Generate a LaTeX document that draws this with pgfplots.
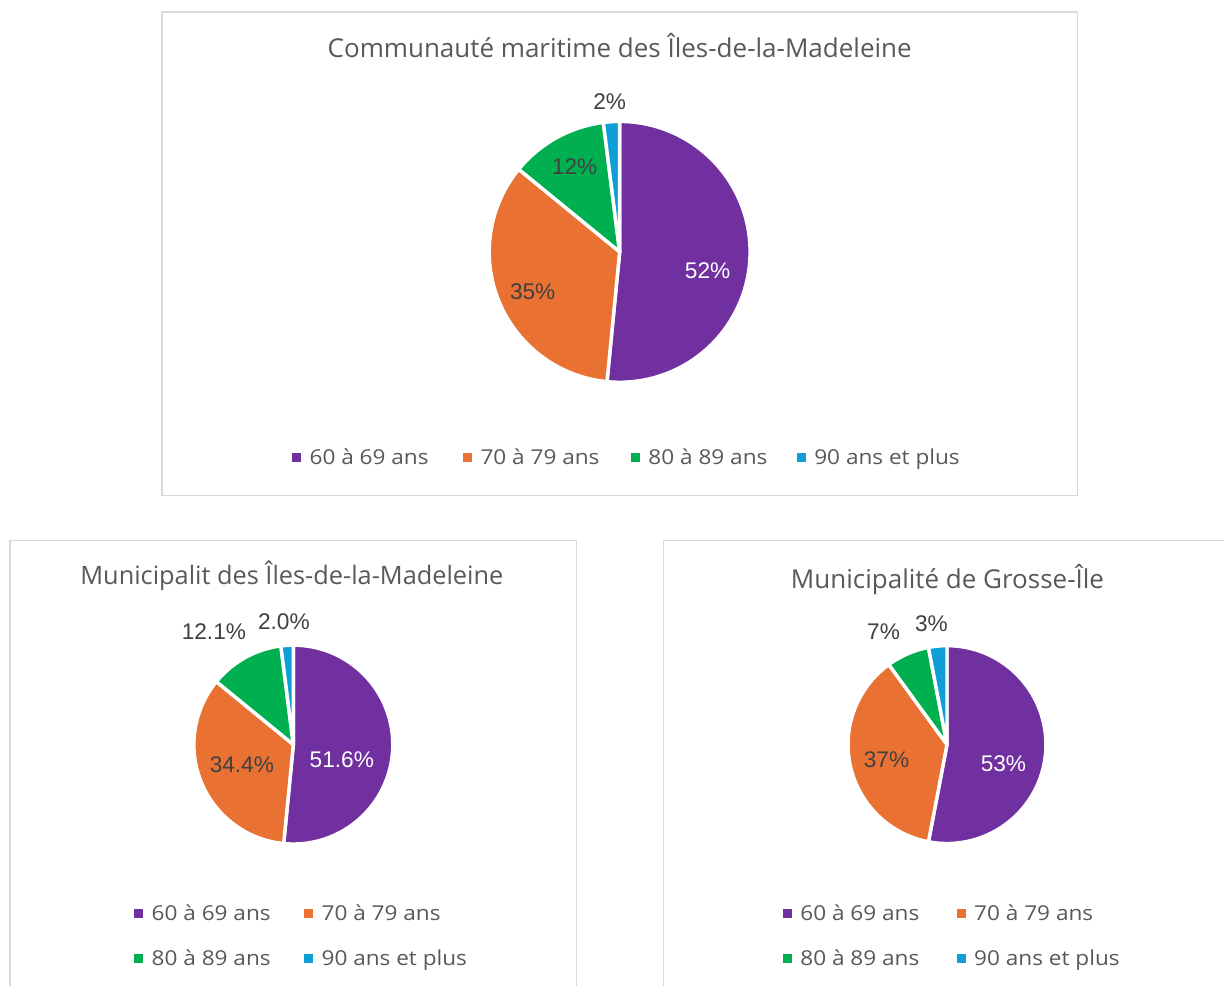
\documentclass[border=0pt]{standalone}
\usepackage{pgfplots}
\pgfplotsset{compat=1.18}
\usepackage{fontspec}
\setmainfont{Liberation Sans}
\newfontfamily\tfont{Open Sans}
\newfontfamily\lfont[FakeStretch=1.1]{Open Sans}
\definecolor{cA}{HTML}{7030A0}
\definecolor{cB}{HTML}{E97132}
\definecolor{cC}{HTML}{00B050}
\definecolor{cD}{HTML}{0F9ED5}
\definecolor{txt}{HTML}{595959}
\definecolor{lab}{HTML}{404040}
\definecolor{brd}{HTML}{D9D9D9}

% values (%) : 60-69, 70-79, 80-89, 90+
\newcommand\pie[7]{%
  \pgfmathsetmacro\tot{#4+#5+#6+#7}%
  \pgfmathsetmacro\kk{360/\tot}%
  \pgfmathsetmacro\aA{90}%
  \pgfmathsetmacro\aB{90-\kk*#4}%
  \pgfmathsetmacro\aC{90-\kk*(#4+#5)}%
  \pgfmathsetmacro\aD{90-\kk*(#4+#5+#6)}%
  \pgfmathsetmacro\aE{-270}%
  \pgfmathsetmacro\rr{#3*0.75}%
  \edef\doit{%
    \noexpand\filldraw[fill=cA,draw=white,line width=2.6pt,line join=round] (axis cs:#1,#2) -- ++(\aA:\rr pt) arc[start angle=\aA,end angle=\aB,radius=\rr pt] -- cycle;
    \noexpand\filldraw[fill=cB,draw=white,line width=2.6pt,line join=round] (axis cs:#1,#2) -- ++(\aB:\rr pt) arc[start angle=\aB,end angle=\aC,radius=\rr pt] -- cycle;
    \noexpand\filldraw[fill=cC,draw=white,line width=2.6pt,line join=round] (axis cs:#1,#2) -- ++(\aC:\rr pt) arc[start angle=\aC,end angle=\aD,radius=\rr pt] -- cycle;
    \noexpand\filldraw[fill=cD,draw=white,line width=2.6pt,line join=round] (axis cs:#1,#2) -- ++(\aD:\rr pt) arc[start angle=\aD,end angle=\aE,radius=\rr pt] -- cycle;
  }\doit}

\newcommand\legitem[4]{% x y color text
  \edef\doit{\noexpand\fill[#3] (axis cs:#1-4.5,#2-4.5) rectangle (axis cs:#1+4.5,#2+4.5);}\doit
  \edef\doit{\noexpand\node[text=txt, anchor=base west, inner sep=0pt, font=\noexpand\lfont\noexpand\fontsize{15.4}{15.4}\noexpand\selectfont] at (axis cs:#1+12.5,#2+7) {#4};}\doit}

\begin{document}
\begin{tikzpicture}
\begin{axis}[
  x=0.75pt, y=0.75pt, y dir=reverse,
  xmin=0, xmax=1225, ymin=0, ymax=987,
  scale only axis, hide axis, clip=false, enlargelimits=false,
]
\fill[white] (axis cs:0,0) rectangle (axis cs:1225,987);
% frames
\draw[brd, line width=1pt] (axis cs:162,12) rectangle (axis cs:1078,496);
\draw[brd, line width=1pt] (axis cs:10,987) -- (axis cs:10,541) -- (axis cs:577,541) -- (axis cs:577,987);
\draw[brd, line width=1pt] (axis cs:664,987) -- (axis cs:664,541) -- (axis cs:1225,541);

% titles
\node[text=txt, anchor=base, inner sep=0pt, font=\tfont\fontsize{19.5}{19.5}\selectfont] at (axis cs:620,58) {Communauté maritime des Îles-de-la-Madeleine};
\node[text=txt, anchor=base, inner sep=0pt, font=\tfont\fontsize{19}{19}\selectfont] at (axis cs:292,585) {Municipalit des Îles-de-la-Madeleine};
\node[text=txt, anchor=base, inner sep=0pt, font=\tfont\fontsize{19.5}{19.5}\selectfont] at (axis cs:948,589) {Municipalité de Grosse-Île};

% pies
\pie{620}{252}{130.5}{51.6}{34.4}{12.1}{2.0}
\pie{293.5}{745}{99.5}{51.6}{34.4}{12.1}{2.0}
\pie{947.5}{745}{99}{53}{37}{7}{3}

% data labels
\begin{scope}[every node/.style={font=\fontsize{17}{17}\selectfont}]
\node[text=white] at (axis cs:708,271) {52\%};
\node[text=lab] at (axis cs:533,292) {35\%};
\node[text=lab] at (axis cs:575,167) {12\%};
\node[text=lab] at (axis cs:610,102) {2\%};
\node[text=white] at (axis cs:342,760) {51.6\%};
\node[text=lab] at (axis cs:242,765) {34.4\%};
\node[text=lab] at (axis cs:214,632) {12.1\%};
\node[text=lab] at (axis cs:284,622) {2.0\%};
\node[text=white] at (axis cs:1004,764) {53\%};
\node[text=lab] at (axis cs:887,760) {37\%};
\node[text=lab] at (axis cs:884,632) {7\%};
\node[text=lab] at (axis cs:932,624) {3\%};
\end{scope}

% legends
\legitem{297}{458}{cA}{60 à 69 ans}
\legitem{468}{458}{cB}{70 à 79 ans}
\legitem{636}{458}{cC}{80 à 89 ans}
\legitem{802}{458}{cD}{90 ans et plus}
\legitem{139}{914}{cA}{60 à 69 ans}
\legitem{309}{914}{cB}{70 à 79 ans}
\legitem{139}{959}{cC}{80 à 89 ans}
\legitem{309}{959}{cD}{90 ans et plus}
\legitem{788}{914}{cA}{60 à 69 ans}
\legitem{962}{914}{cB}{70 à 79 ans}
\legitem{788}{959}{cC}{80 à 89 ans}
\legitem{962}{959}{cD}{90 ans et plus}
\end{axis}
\end{tikzpicture}
\end{document}
